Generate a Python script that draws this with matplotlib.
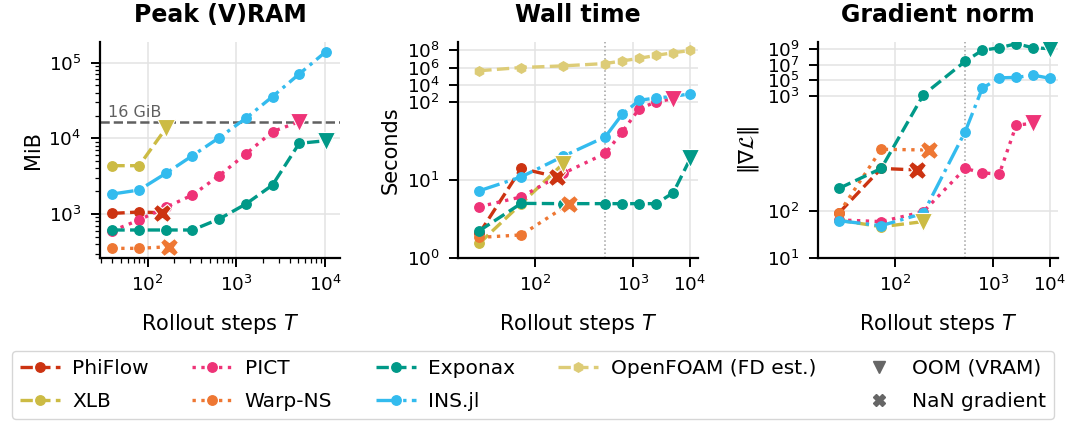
import numpy as np
import matplotlib
matplotlib.use("Agg")
import matplotlib.pyplot as plt
from matplotlib.lines import Line2D
from matplotlib.ticker import FixedLocator, FuncFormatter, NullLocator

#  Rollout lengths
steps = [40, 80, 160, 320, 640, 1280, 2560, 5120, 10240]
t_split = 320  # beyond this the x axis is compressed (panels 2, 3)

#  Each method: rollout steps (last one is where it failed, if it failed)
phiflow_T = [40, 80, 144]
xlb_T = [40, 80, 160]
pict_T = [40, 80, 160, 320, 640, 1280, 2560, 5120]
warp_T = [40, 80, 176]
exponax_T = steps
insjl_T = steps
openfoam_T = steps

#  Peak (V)RAM, MiB
phiflow_mem = [1020, 1063, 1040]
xlb_mem = [4350, 4350, 13500]
pict_mem = [600, 834, 1225, 1782, 3210, 6210, 12250, 16600]
warp_mem = [352, 352, 370]
exponax_mem = [615, 615, 615, 615, 859, 1355, 2415, 8590, 9300]
insjl_mem = [1838, 2075, 3440, 5900, 10200, 18400, 35600, 70800, 139700]

#  Wall time, s
phiflow_time = [2.08, 14.1, 11.0]
xlb_time = [1.55, 5.0, 16.3]
pict_time = [4.57, 6.1, 12.2, 21.9, 41.4, 82, 100, 240]
warp_time = [1.85, 1.99, 4.94]
exponax_time = [2.25, 5.04, 5.0, 5.0, 5.0, 5.0, 5.0, 6.9, 18.9]
insjl_time = [7.3, 11.0, 20.2, 35.7, 69.6, 155, 287, 440, 870]
openfoam_time = [4.2e5, 1.0e6, 1.55e6, 2.9e6, 5.8e6, 1.17e7, 2.6e7, 5.2e7, 9.6e7]

#  Gradient norm
phiflow_grad = [91, 234, 227]
xlb_grad = [63, 46, 59]
pict_grad = [64, 59, 95, 234, 214, 209, 560, 580]
warp_grad = [91, 344, 339]
exponax_grad = [157, 234, 1470, 2.6e7, 6.2e8, 1.3e9, 4.2e9, 1.3e9, 1.0e9]
insjl_grad = [61.5, 48.4, 88, 492, 1.0e4, 2.1e5, 2.4e5, 4.6e5, 1.8e5]

#  How each run ended: None = finished, "oom" = out of VRAM, "nan" = NaN gradient
phiflow_end = "nan"
xlb_end = "oom"
pict_end = "oom"
warp_end = "nan"
exponax_end = "oom"
insjl_end = None
openfoam_end = None

names = ["PhiFlow", "XLB", "PICT", "Warp-NS", "Exponax", "INS.jl", "OpenFOAM (FD est.)"]
colors = ["#cc3311", "#ccbb44", "#ee3377", "#ee7733", "#009988", "#33bbee", "#ddcc77"]
styles = ["--", "--", ":", ":", "--", "-.", "--"]
markers = ["o", "o", "o", "o", "o", "o", "h"]
all_T = [phiflow_T, xlb_T, pict_T, warp_T, exponax_T, insjl_T, openfoam_T]
ends = [phiflow_end, xlb_end, pict_end, warp_end, exponax_end, insjl_end, openfoam_end]
mem = [phiflow_mem, xlb_mem, pict_mem, warp_mem, exponax_mem, insjl_mem, None]
wall = [phiflow_time, xlb_time, pict_time, warp_time, exponax_time, insjl_time, openfoam_time]
grad = [phiflow_grad, xlb_grad, pict_grad, warp_grad, exponax_grad, insjl_grad, None]


def piecewise_log(breaks, slopes):
    # log axis whose decade length changes at each break (in log10 units)
    knots = np.array([-50.0] + list(breaks) + [50.0])
    pos = np.concatenate([[0.0], np.cumsum(np.diff(knots) * np.array(slopes))])

    def fwd(v):
        v = np.asarray(v, dtype=float)
        return np.interp(np.log10(np.clip(v, 1e-45, None)), knots, pos)

    def inv(u):
        return 10 ** np.interp(u, pos, knots)

    return fwd, inv


def pow10(v, _):
    return r"$\mathdefault{10^{%d}}$" % int(round(np.log10(v)))


def draw(ax, values):
    for name, c, ls, mk, T, y, end in zip(names, colors, styles, markers, all_T, values, ends):
        if y is None:
            continue
        n_ok = len(T) - (1 if end else 0)
        ax.plot(T, y, color=c, ls=ls, lw=2.4, marker=mk, ms=6.8,
                markevery=list(range(n_ok)), zorder=3)
        if end == "oom":
            ax.plot(T[-1], y[-1], ls="none", marker="v", ms=13, color=c,
                    mec="white", mew=0.8, zorder=5)
        elif end == "nan":
            ax.plot(T[-1], y[-1], ls="none", marker="X", ms=13, color=c,
                    mec="white", mew=0.8, zorder=5)


def style(ax):
    for s in ["top", "right"]:
        ax.spines[s].set_visible(False)
    for s in ["left", "bottom"]:
        ax.spines[s].set_linewidth(1.6)
    ax.grid(True, which="major", color="#e3e3e3", lw=1.1, zorder=0)
    ax.set_axisbelow(True)
    ax.tick_params(which="major", length=6.5, width=1.4, pad=5.5, labelsize=13.2)
    ax.tick_params(axis="y", which="major", pad=7)
    ax.tick_params(which="minor", length=3.5, width=0.9)
    ax.set_xlabel("Rollout steps $T$", fontsize=15, labelpad=12)


fig = plt.figure(figsize=(10.8, 4.21), dpi=100)
ax1 = fig.add_axes([100 / 1080, 162.7 / 421, 240 / 1080, 216.6 / 421])
ax2 = fig.add_axes([458.3 / 1080, 162.7 / 421, 240 / 1080, 216.6 / 421])
ax3 = fig.add_axes([818.3 / 1080, 162.7 / 421, 240 / 1080, 216.6 / 421])

#  Peak (V)RAM
draw(ax1, mem)
ax1.set_xscale("log")
ax1.set_yscale("log")
ax1.set_xlim(29, 14760)
ax1.set_ylim(260, 189000)
ax1.axhline(16384, color="#606060", ls="--", lw=1.8, zorder=2)
ax1.text(35.6, 17500, "16 GiB", color="#606060", fontsize=11.5, va="bottom")
ax1.set_ylabel("MiB", fontsize=15)
ax1.set_title("Peak (V)RAM", fontsize=17, fontweight="bold", pad=14)
style(ax1)

#  Wall time and gradient norm share the compressed x axis
xf, xi = piecewise_log([np.log10(t_split)], [1.0, 0.405])
for ax, values, title, ylab in [(ax2, wall, "Wall time", "Seconds"),
                                (ax3, grad, "Gradient norm", r"$\|\nabla\mathcal{L}\|$")]:
    draw(ax, values)
    ax.axvline(t_split, color="#a0a0a0", ls=":", lw=1.1, zorder=1)
    ax.set_xscale("function", functions=(xf, xi))
    ax.set_xlim(28.3, 14190)
    ax.xaxis.set_major_locator(FixedLocator([1e2, 1e3, 1e4]))
    ax.xaxis.set_major_formatter(FuncFormatter(pow10))
    ax.xaxis.set_minor_locator(NullLocator())
    ax.set_ylabel(ylab, fontsize=15)
    ax.set_title(title, fontsize=17, fontweight="bold", pad=14)
    style(ax)

yf2, yi2 = piecewise_log([2.0], [1.0, 0.110])
ax2.set_yscale("function", functions=(yf2, yi2))
ax2.set_ylim(1, 1e9)
ax2.yaxis.set_major_locator(FixedLocator([1e0, 1e1, 1e2, 1e4, 1e6, 1e8]))
ax2.yaxis.set_major_formatter(FuncFormatter(pow10))
ax2.yaxis.set_minor_locator(NullLocator())

yf3, yi3 = piecewise_log([1.0, 2.0, 3.0], [0.416, 0.416, 1.0, 0.0693])
ax3.set_yscale("function", functions=(yf3, yi3))
ax3.set_ylim(10, 10 ** 9.88)
ax3.yaxis.set_major_locator(FixedLocator([1e1, 1e2, 1e3, 1e5, 1e7, 1e9]))
ax3.yaxis.set_major_formatter(FuncFormatter(pow10))
ax3.yaxis.set_minor_locator(NullLocator())

#  Shared legend
handles = [Line2D([], [], color=c, ls=ls, lw=2.4, marker=mk, ms=6.8)
           for c, ls, mk in zip(colors, styles, markers)]
handles.insert(7, Line2D([], [], ls="none"))
handles += [Line2D([], [], ls="none", marker="v", ms=9, color="#666666"),
            Line2D([], [], ls="none", marker="X", ms=8, color="#666666")]
labels = names[:7] + [""] + ["OOM (VRAM)", "NaN gradient"]
fig.legend(handles, labels, loc="lower left", bbox_to_anchor=(12 / 1080, 2 / 421),
           borderaxespad=0, ncol=5, fontsize=14.5, frameon=True, edgecolor="#cccccc",
           handlelength=2.0, handletextpad=0.6, columnspacing=2.15,
           labelspacing=0.7, borderpad=0.4)

fig.savefig("out.png", dpi=100)
